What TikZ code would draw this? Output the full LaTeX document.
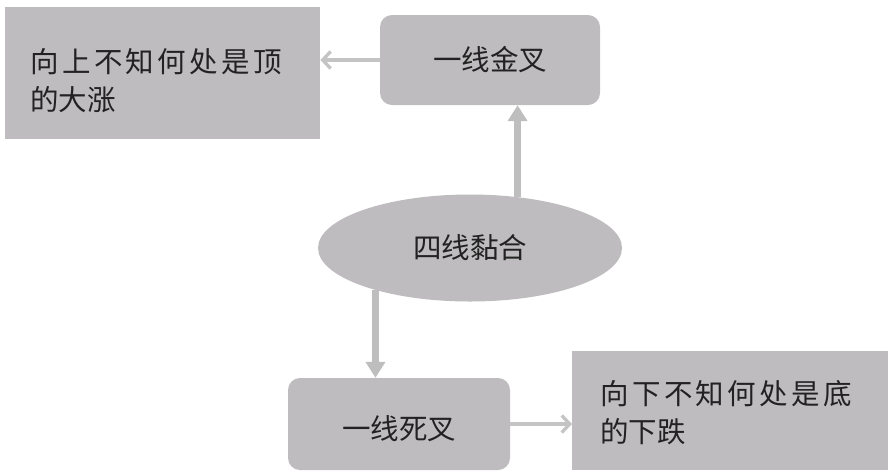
\documentclass[tikz,border=0pt]{standalone}
\usepackage{fontspec}
\newfontfamily\cjk{Noto Sans CJK SC}
\usetikzlibrary{shapes.geometric,arrows.meta}
\definecolor{boxgray}{RGB}{190,188,190}
\definecolor{thickgray}{RGB}{190,190,190}
\definecolor{thingray}{RGB}{196,196,196}
\definecolor{txtcol}{RGB}{34,34,34}
\tikzset{
  sqbox/.style={fill=boxgray, draw=none, inner sep=0pt},
  rbox/.style={fill=boxgray, draw=none, rounded corners=12pt, inner sep=0pt,
    font=\cjk\fontsize{28.5}{38}\selectfont, text=txtcol},
  ell/.style={ellipse, fill=boxgray, draw=none, inner sep=0pt,
    font=\cjk\fontsize{28.5}{38}\selectfont, text=txtcol},
  txt/.style={font=\cjk\fontsize{28.5}{38}\selectfont, text=txtcol, inner sep=0pt, align=left},
  thickarrow/.style={draw=thickgray, line width=7pt, -{Triangle[width=19pt,length=16pt]}},
  thinarrow/.style={draw=thingray, line width=3.3pt, -{Straight Barb[length=8pt,width=17pt]}},
}
\begin{document}
\begin{tikzpicture}[x=1pt,y=-1pt]
\useasboundingbox (0,0) rectangle (892,475);
% boxes
\node[sqbox, minimum width=315pt, minimum height=132pt, anchor=north west] (b1) at (5,7) {};
\node[txt, anchor=base west] (t1) at (30,110.5) {{\addfontfeature{LetterSpace=12}向上不知何处是顶}\\的大涨};
\node[rbox, minimum width=220pt, minimum height=90pt] (b2) at (490,60) {一线金叉};
\node[ell, minimum width=304pt, minimum height=107pt] (e) at (470,248) {四线黏合};
\node[rbox, minimum width=222pt, minimum height=92pt, text depth=0pt] (b3) at (399,424) {\raisebox{-6pt}{一线死叉}};
\node[sqbox, minimum width=316pt, minimum height=119pt, anchor=north west] (b4) at (572,351) {};
\node[txt, anchor=base west] (t4) at (600,442) {{\addfontfeature{LetterSpace=12}向下不知何处是底}\\的下跌};
% connectors
\draw[thinarrow] (b2.west) -- (b1.east |- b2.west);
\draw[thickarrow] (e.47) -- (e.47 |- b2.south);
\draw[thickarrow] (e.204.6) -- (e.204.6 |- b3.north);
\draw[thinarrow] (b3.east) -- (b4.west |- b3.east);
\end{tikzpicture}
\end{document}
